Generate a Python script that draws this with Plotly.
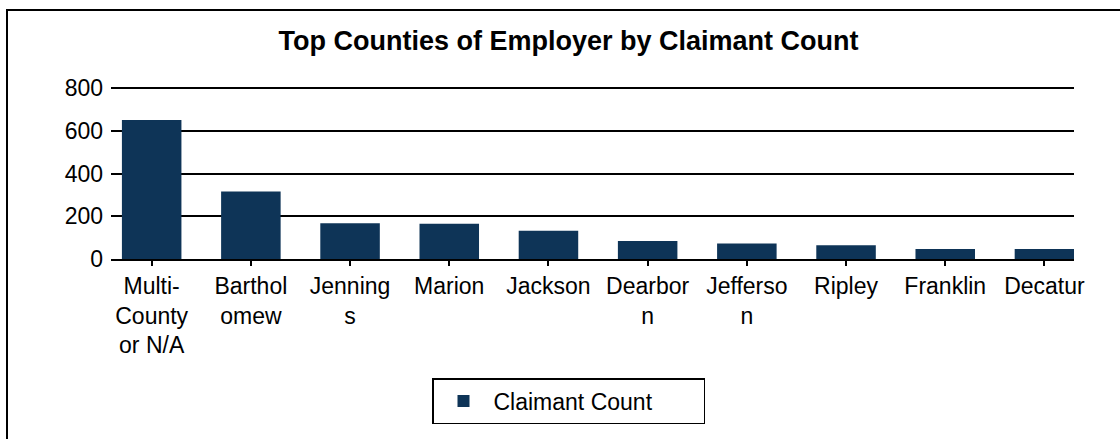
import plotly.graph_objects as go

categories = ["Multi-<br>County<br>or N/A", "Barthol<br>omew", "Jenning<br>s", "Marion", "Jackson",
              "Dearbor<br>n", "Jefferso<br>n", "Ripley", "Franklin", "Decatur"]
claimant_count = [650, 316, 167, 165, 132, 84, 73, 64, 47, 47]
y_ticks = [0, 200, 400, 600, 800]
series_name = "Claimant Count"

W, H = 1120, 439
L, R, T, B = 111, 46, 87, 180
pw, ph = W - L - R, H - T - B

def px_x(x):
    return (x - L) / pw

def px_y(y):
    return (H - B - y) / ph

fig = go.Figure()
fig.add_trace(go.Bar(
    x=list(range(len(categories))), y=claimant_count, name=series_name,
    marker=dict(color="#0E3457", line=dict(width=0)), showlegend=True,
))

font = "Liberation Sans, Arial, sans-serif"
fig.update_layout(
    width=W, height=H,
    margin=dict(l=L, r=R, t=T, b=B),
    paper_bgcolor="white", plot_bgcolor="white",
    font=dict(family=font, size=23, color="black"),
    title=dict(text="<b>Top Counties of Employer by Claimant Count</b>",
               x=568.5 / W, xref="container", xanchor="center",
               y=1 - 41 / H, yref="container", yanchor="middle",
               font=dict(size=27, color="black", family=font)),
    bargap=0.4,
    xaxis=dict(range=[-0.41, 9.298], tickmode="array",
               tickvals=list(range(len(categories))), ticktext=categories,
               showgrid=False, zeroline=False, showline=True, linecolor="black",
               linewidth=2, ticks="outside", ticklen=5, tickwidth=1.5,
               tickcolor="black", tickangle=0, fixedrange=True),
    yaxis=dict(range=[0, 805], tickvals=y_ticks, showgrid=True,
               gridcolor="black", gridwidth=1.5, zeroline=False,
               showline=False, ticks="", ticklabelstandoff=7, fixedrange=True),
    legend=dict(orientation="h", x=px_x(568.5), xanchor="center",
                y=px_y(378), yanchor="top", bordercolor="black",
                borderwidth=1.5, font=dict(size=23, family=font),
                entrywidth=205, entrywidthmode="pixels", itemwidth=50),
    showlegend=True,
    shapes=[dict(type="rect", xref="paper", yref="paper",
                 x0=px_x(7), x1=px_x(1130), y0=px_y(10), y1=px_y(450),
                 line=dict(color="black", width=2), fillcolor="rgba(0,0,0,0)",
                 layer="below")],
)

fig.write_html("out.html", config={"displayModeBar": False},
               post_script="document.body.style.margin='0px';")
